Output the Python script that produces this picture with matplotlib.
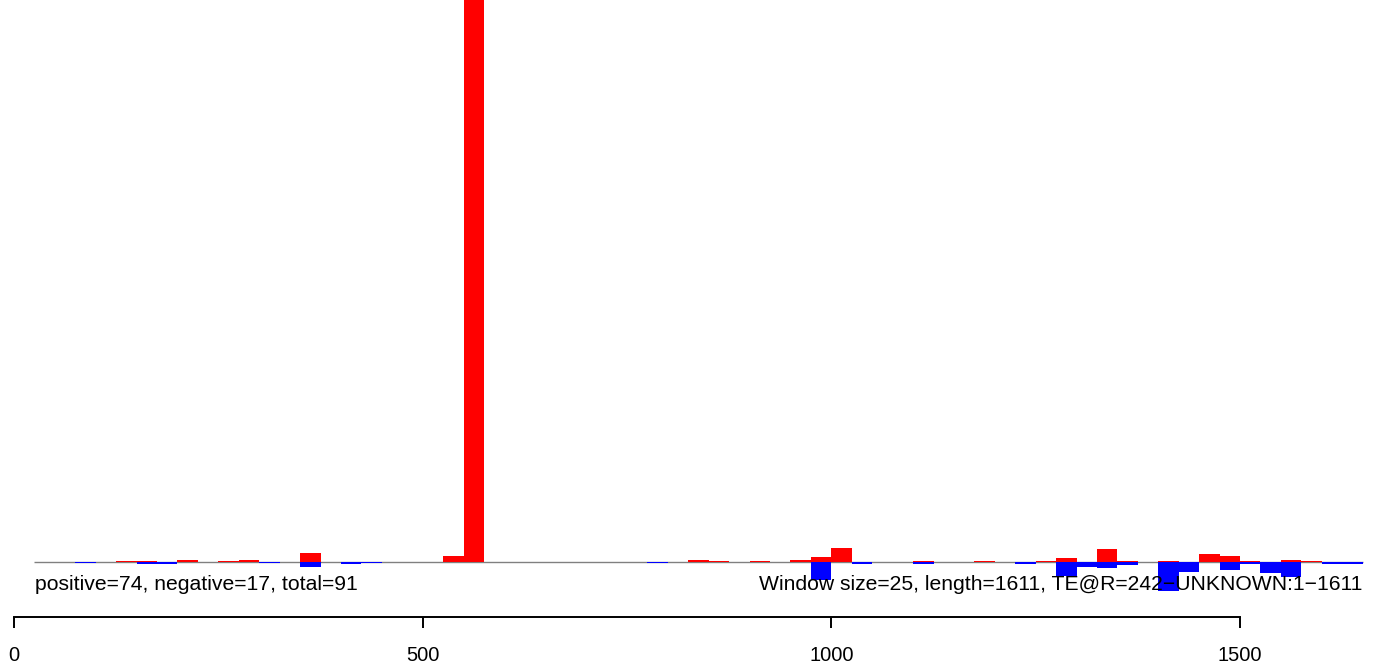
import numpy as np
import matplotlib
matplotlib.use('Agg')
import matplotlib.pyplot as plt

plt.rcParams['font.family'] = ['Liberation Sans', 'DejaVu Sans']

# window starts (size 25) and the height of positive / negative strand bars
win_size = 25
win_start = np.arange(1, 66) * win_size
pos = [0, 0, 0, 0, 1, 0.7, 0, 2.3, 0, 1,
       2.3, 0, 0, 9.3, 0, 0, 0, 0, 0, 0,
       6.3, 700, 0, 0, 0, 0, 0, 0, 0, 0,
       0, 0, 2.3, 1.3, 0, 1.3, 0, 2.3, 5.3, 14.3,
       0, 0, 0, 0.7, 0, 0, 1.3, 0, 0, 1,
       4.3, 0, 13.3, 1, 0, 1, 0, 8.3, 6.3, 1,
       0, 2.3, 1, 0, 0]
neg = [0, 0, 1.3, 0, 0, 1.7, 1.7, 0, 0, 0,
       0, 1.3, 0, 5.3, 0, 2.3, 1.3, 0, 0, 0,
       0, 0, 0, 0, 0, 0, 0, 0, 0, 0,
       1.3, 0, 0, 0, 0, 0, 0, 0, 17.7, 0,
       2.3, 0, 0, 1.7, 0, 0, 0, 0, 2, 0,
       14.3, 5, 6, 3.3, 0, 29, 10.3, 0, 7.7, 2,
       11, 15, 0, 1.7, 1.7]
ticks = [0, 500, 1000, 1500]
left_text = 'positive=74, negative=17, total=91'
right_text = 'Window size=25, length=1611, TE@R=242\u2212UNKNOWN:1\u22121611'

W, H = 1375, 666
fig = plt.figure(figsize=(W / 100, H / 100), dpi=100)

# px -> data: 0 at px 14, 1500 at px 1240
ppu = (1240 - 14) / 1500
xlim = (-14 / ppu, (W - 14) / ppu)

ax = fig.add_axes([0, (H - 600) / H, 1, 600 / H])
ax.set_xlim(xlim)
ax.set_ylim(-38, 562)
ax.axis('off')

ax.hlines(0, 25, 1650, color='#808080', lw=1, zorder=1)
ax.bar(win_start, pos, width=win_size, align='edge', color='#ff0000', lw=0, zorder=2)
ax.bar(win_start, -np.array(neg), width=win_size, align='edge', color='#0000ff', lw=0, zorder=2)

ax.text((35 - 14) / ppu, -22, left_text, fontsize=15.2, ha='left', va='center', zorder=5)
ax.text((1362 - 14) / ppu, -22, right_text, fontsize=15.2, ha='right', va='center', zorder=5)

# bottom axis
ax2 = fig.add_axes([0, (H - 617) / H, 1, 0.01])
ax2.set_xlim(xlim)
ax2.patch.set_visible(False)
for s in ['top', 'left', 'right']:
    ax2.spines[s].set_visible(False)
ax2.spines['bottom'].set_bounds(0, 1500)
ax2.spines['bottom'].set_linewidth(1.4)
ax2.set_yticks([])
ax2.set_xticks(ticks)
ax2.set_xticklabels([str(t) for t in ticks])
ax2.tick_params(axis='x', direction='out', length=8, width=1.4, pad=13, labelsize=14.5)

fig.savefig('out.png', dpi=100)
